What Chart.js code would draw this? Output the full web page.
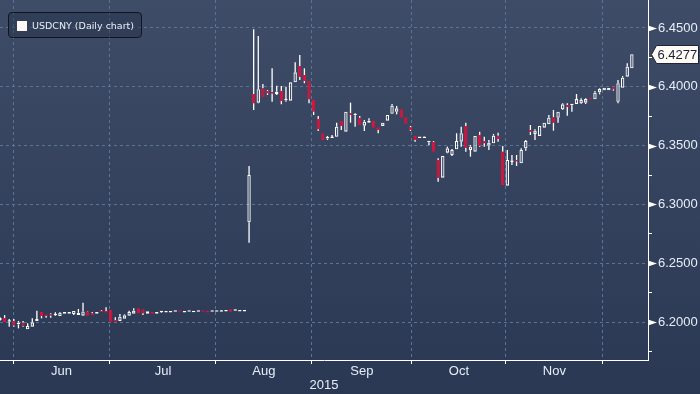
<!DOCTYPE html>
<html>
<head>
<meta charset="utf-8">
<script src="https://cdn.jsdelivr.net/npm/chart.js@4/dist/chart.umd.min.js"></script>
<style>
  html, body { margin: 0; padding: 0; }
  body {
    width: 700px; height: 394px; position: relative; overflow: hidden;
    background: linear-gradient(#3e4c68, #2b3854);
  }
  #chart { position: absolute; left: 0; top: 0; }
  .legend {
    position: absolute; left: 8px; top: 12px; width: 132px; height: 24px;
    border: 1px solid #10151f; border-radius: 4px;
    background: rgba(35, 46, 68, 0.45);
    color: #e8eef8; font: 9.5px 'DejaVu Sans', sans-serif; line-height: 25px;
  }
  .legend .box { position: absolute; left: 8px; top: 8px; width: 10px; height: 10px; background: #fff6f6; }
  .legend .txt { position: absolute; left: 23px; top: 0; white-space: nowrap; }
</style>
</head>
<body>
<canvas id="chart" width="700" height="394"></canvas>
<div class="legend"><div class="box"></div><span class="txt" id="legendText"></span></div>
<script>
// daily candles, oldest first (one per trading day)
const opens = [
  6.2017, 6.2034, 6.2003, 6.2009, 6.1980, 6.1994, 6.1938, 6.1960, 6.2009, 6.2085,
  6.2060, 6.2062, 6.2058, 6.2051, 6.2071, 6.2071, 6.2068, 6.2060, 6.2054, 6.2090,
  6.2074, 6.2071, 6.2094, 6.2094, 6.2102, 6.2017, 6.2009, 6.2028, 6.2054, 6.2071,
  6.2116, 6.2108, 6.2071, 6.2085, 6.2071, 6.2083, 6.2080, 6.2080, 6.2088, 6.2092,
  6.2080, 6.2088, 6.2083, 6.2088, 6.2092, 6.2094, 6.2088, 6.2088, 6.2088, 6.2090,
  6.2108, 6.2095, 6.2090, 6.2090, 6.2848, 6.3939, 6.3865, 6.3988, 6.3964, 6.3948,
  6.3939, 6.3964, 6.3886, 6.3882, 6.4038, 6.4177, 6.4100, 6.4049, 6.3888, 6.3726,
  6.3605, 6.3560, 6.3564, 6.3575, 6.3712, 6.3618, 6.3775, 6.3758, 6.3737, 6.3669,
  6.3695, 6.3709, 6.3656, 6.3667, 6.3712, 6.3771, 6.3788, 6.3809, 6.3741, 6.3656,
  6.3582, 6.3564, 6.3564, 6.3528, 6.3531, 6.3378, 6.3227, 6.3440, 6.3420, 6.3469,
  6.3533, 6.3667, 6.3463, 6.3448, 6.3590, 6.3539, 6.3499, 6.3520, 6.3584, 6.3448,
  6.3159, 6.3361, 6.3371, 6.3350, 6.3477, 6.3633, 6.3599, 6.3582, 6.3652, 6.3681,
  6.3741, 6.3737, 6.3809, 6.3845, 6.3843, 6.3854, 6.3860, 6.3865, 6.3907, 6.3894,
  6.3953, 6.3970, 6.3970, 6.3996, 6.3873, 6.3992, 6.4086, 6.4157
];
const highs = [
  6.2040, 6.2060, 6.2026, 6.2026, 6.2009, 6.2009, 6.1989, 6.2031, 6.2096, 6.2085,
  6.2060, 6.2074, 6.2082, 6.2085, 6.2085, 6.2085, 6.2094, 6.2111, 6.2164, 6.2094,
  6.2085, 6.2085, 6.2102, 6.2125, 6.2102, 6.2040, 6.2068, 6.2065, 6.2096, 6.2116,
  6.2116, 6.2108, 6.2091, 6.2085, 6.2085, 6.2094, 6.2094, 6.2094, 6.2092, 6.2092,
  6.2094, 6.2092, 6.2091, 6.2092, 6.2092, 6.2094, 6.2092, 6.2092, 6.2102, 6.2094,
  6.2108, 6.2104, 6.2094, 6.2094, 6.3327, 6.4489, 6.4432, 6.4024, 6.3973, 6.4157,
  6.4009, 6.4007, 6.4001, 6.4038, 6.4208, 6.4270, 6.4157, 6.4049, 6.3888, 6.3752,
  6.3605, 6.3582, 6.3590, 6.3695, 6.3712, 6.3788, 6.3865, 6.3775, 6.3752, 6.3718,
  6.3732, 6.3709, 6.3656, 6.3695, 6.3760, 6.3854, 6.3837, 6.3809, 6.3741, 6.3667,
  6.3582, 6.3570, 6.3575, 6.3533, 6.3539, 6.3392, 6.3412, 6.3491, 6.3471, 6.3605,
  6.3661, 6.3695, 6.3505, 6.3582, 6.3618, 6.3576, 6.3548, 6.3599, 6.3610, 6.3497,
  6.3463, 6.3420, 6.3420, 6.3477, 6.3548, 6.3675, 6.3639, 6.3667, 6.3695, 6.3760,
  6.3803, 6.3788, 6.3860, 6.3860, 6.3851, 6.3939, 6.3902, 6.3902, 6.3907, 6.3964,
  6.3987, 6.3992, 6.3990, 6.3996, 6.4058, 6.4092, 6.4200, 6.4277
];
const lows = [
  6.2010, 6.2000, 6.1960, 6.1960, 6.1946, 6.1960, 6.1938, 6.1960, 6.2009, 6.2031,
  6.2037, 6.2037, 6.2051, 6.2051, 6.2071, 6.2071, 6.2060, 6.2060, 6.2054, 6.2054,
  6.2060, 6.2071, 6.2085, 6.2080, 6.2003, 6.2003, 6.2009, 6.2028, 6.2054, 6.2071,
  6.2074, 6.2060, 6.2071, 6.2071, 6.2071, 6.2077, 6.2080, 6.2080, 6.2088, 6.2088,
  6.2080, 6.2088, 6.2083, 6.2088, 6.2088, 6.2080, 6.2088, 6.2088, 6.2088, 6.2090,
  6.2088, 6.2095, 6.2090, 6.2090, 6.2674, 6.3803, 6.3860, 6.3911, 6.3930, 6.3873,
  6.3930, 6.3851, 6.3873, 6.3882, 6.4038, 6.4058, 6.4030, 6.3860, 6.3760, 6.3624,
  6.3548, 6.3548, 6.3564, 6.3575, 6.3633, 6.3618, 6.3695, 6.3661, 6.3675, 6.3624,
  6.3695, 6.3652, 6.3605, 6.3667, 6.3712, 6.3771, 6.3766, 6.3737, 6.3686, 6.3624,
  6.3533, 6.3564, 6.3564, 6.3503, 6.3448, 6.3193, 6.3227, 6.3435, 6.3412, 6.3469,
  6.3491, 6.3448, 6.3406, 6.3448, 6.3491, 6.3491, 6.3463, 6.3520, 6.3533, 6.3165,
  6.3159, 6.3335, 6.3327, 6.3350, 6.3457, 6.3590, 6.3548, 6.3582, 6.3652, 6.3681,
  6.3627, 6.3695, 6.3803, 6.3754, 6.3788, 6.3854, 6.3854, 6.3854, 6.3894, 6.3894,
  6.3936, 6.3970, 6.3970, 6.3967, 6.3860, 6.3992, 6.4086, 6.4157
];
const closes = [
  6.2034, 6.2000, 6.2008, 6.1970, 6.1994, 6.1969, 6.1966, 6.1997, 6.2026, 6.2051,
  6.2051, 6.2056, 6.2064, 6.2079, 6.2085, 6.2085, 6.2094, 6.2079, 6.2090, 6.2054,
  6.2060, 6.2085, 6.2085, 6.2080, 6.2003, 6.2003, 6.2045, 6.2057, 6.2085, 6.2096,
  6.2074, 6.2074, 6.2091, 6.2071, 6.2085, 6.2087, 6.2094, 6.2094, 6.2092, 6.2088,
  6.2094, 6.2092, 6.2091, 6.2092, 6.2088, 6.2080, 6.2092, 6.2092, 6.2097, 6.2094,
  6.2088, 6.2099, 6.2094, 6.2094, 6.3250, 6.3860, 6.3979, 6.3911, 6.3945, 6.3942,
  6.3958, 6.3879, 6.3890, 6.4038, 6.4123, 6.4086, 6.4049, 6.3894, 6.3789, 6.3639,
  6.3548, 6.3565, 6.3570, 6.3661, 6.3667, 6.3788, 6.3760, 6.3762, 6.3675, 6.3703,
  6.3712, 6.3652, 6.3633, 6.3695, 6.3760, 6.3839, 6.3817, 6.3737, 6.3686, 6.3633,
  6.3548, 6.3570, 6.3570, 6.3533, 6.3448, 6.3227, 6.3412, 6.3477, 6.3463, 6.3539,
  6.3605, 6.3482, 6.3491, 6.3582, 6.3499, 6.3520, 6.3525, 6.3584, 6.3556, 6.3165,
  6.3378, 6.3366, 6.3366, 6.3463, 6.3539, 6.3618, 6.3627, 6.3667, 6.3695, 6.3737,
  6.3695, 6.3788, 6.3851, 6.3828, 6.3847, 6.3896, 6.3888, 6.3896, 6.3894, 6.3950,
  6.3981, 6.3992, 6.3990, 6.3979, 6.4030, 6.4077, 6.4171, 6.4277
];

// month boundaries in trading-day units, and the month names shown between them
const monthStarts = [2.82, 23.85, 46.82, 67.63, 89.31, 109.69, 130.72];
const monthLabels = ['Jun', 'Jul', 'Aug', 'Sep', 'Oct', 'Nov'];
const yearLabel = '2015';
const priceLabels = [6.20, 6.25, 6.30, 6.35, 6.40, 6.45];
const seriesName = 'USDCNY (Daily chart)';

const UP = '#ffffff';
const DOWN = '#dc143c';
const GRID = '#587592';
const TEXT = '#e6eef8';
const NONE = 'rgba(0,0,0,0)';
const FONT = 'Liberation Sans';

document.getElementById('legendText').textContent = seriesName;

const idx = opens.map((_, i) => i);
const isUp = i => closes[i] >= opens[i];
const bodies = idx.map(i => ({ x: i, y: [opens[i], closes[i]] }));
const upperWicks = idx.map(i => ({ x: i, y: [Math.max(opens[i], closes[i]), highs[i]] }));
const lowerWicks = idx.map(i => ({ x: i, y: [lows[i], Math.min(opens[i], closes[i])] }));

const xTicks = [];
monthStarts.forEach((v, k) => {
    xTicks.push(v);
    if (k < monthLabels.length) xTicks.push((v + monthStarts[k + 1]) / 2);
});
const yTicks = [];
priceLabels.forEach(v => { yTicks.push(v - 0.025, v); });
const isMajor = v => Math.abs(v * 20 - Math.round(v * 20)) < 1e-6;

// pointers next to the price labels and the last-price tag
const axisMarks = {
    id: 'axisMarks',
    afterDraw(chart) {
        const ctx = chart.ctx;
        const ys = chart.scales.y;
        ctx.save();
        ctx.fillStyle = '#ffffff';
        priceLabels.forEach(v => {
            const py = Math.round(ys.getPixelForValue(v)) + 0.5;
            ctx.beginPath();
            ctx.moveTo(ys.left, py - 3);
            ctx.lineTo(ys.left + 9, py);
            ctx.lineTo(ys.left, py + 3);
            ctx.closePath();
            ctx.fill();
        });

        const last = closes[closes.length - 1];
        const py = Math.round(ys.getPixelForValue(last)) + 0.5;
        const x0 = ys.left + 3.5;
        ctx.beginPath();
        ctx.moveTo(x0, py);
        ctx.lineTo(x0 + 5, py - 9);
        ctx.lineTo(698.5, py - 9);
        ctx.lineTo(698.5, py + 9);
        ctx.lineTo(x0 + 5, py + 9);
        ctx.closePath();
        ctx.fillStyle = '#fffaf3';
        ctx.fill();
        ctx.strokeStyle = '#1b2638';
        ctx.lineWidth = 1;
        ctx.stroke();
        ctx.fillStyle = '#16213a';
        ctx.font = '13px "' + FONT + '"';
        ctx.textBaseline = 'middle';
        ctx.fillText(last.toFixed(4), x0 + 6, py + 0.5);
        ctx.restore();
    }
};

new Chart(document.getElementById('chart'), {
    type: 'bar',
    data: {
        datasets: [
            {
                label: seriesName,
                data: bodies,
                backgroundColor: idx.map(i => isUp(i) ? NONE : DOWN),
                borderColor: idx.map(i => isUp(i) ? UP : DOWN),
                borderWidth: 1.1,
                borderSkipped: false,
                barThickness: 3.4,
                minBarLength: 1.5,
                inflateAmount: 0,
                order: 0,
            },
            { data: upperWicks, backgroundColor: UP, barThickness: 1.3, inflateAmount: 0, order: 1 },
            { data: lowerWicks, backgroundColor: UP, barThickness: 1.3, inflateAmount: 0, order: 1 },
        ],
    },
    options: {
        responsive: false,
        animation: false,
        devicePixelRatio: 1,
        layout: { padding: 0 },
        datasets: { bar: { grouped: false } },
        plugins: { legend: { display: false }, tooltip: { enabled: false } },
        scales: {
            x: {
                type: 'linear',
                min: 0,
                max: 140.5,
                offset: false,
                afterBuildTicks: s => { s.ticks = xTicks.map(v => ({ value: v })); },
                afterFit: s => { s.height = 34; s.paddingLeft = 0; s.paddingRight = 0; },
                grid: {
                    offset: false,
                    color: c => c.index % 2 === 0 ? GRID : NONE,
                    tickColor: c => c.index % 2 === 0 ? '#ffffff' : NONE,
                    tickLength: 4,
                },
                border: { color: '#ffffff', width: 1, dash: [3, 3] },
                ticks: {
                    autoSkip: false,
                    maxRotation: 0,
                    color: TEXT,
                    font: { family: FONT, size: 13 },
                    padding: 0,
                    callback: (v, i) => i % 2 ? monthLabels[(i - 1) / 2] : '',
                },
                title: {
                    display: true,
                    text: yearLabel,
                    color: TEXT,
                    font: { family: FONT, size: 13 },
                    padding: { top: 0, bottom: 1 },
                },
            },
            y: {
                position: 'right',
                min: 6.1677,
                max: 6.4738,
                afterBuildTicks: s => { s.ticks = yTicks.map(v => ({ value: v })); },
                afterFit: s => { s.width = 52; s.paddingTop = 0; s.paddingBottom = 0; },
                grid: {
                    color: c => c.tick && isMajor(c.tick.value) ? GRID : NONE,
                    tickColor: c => c.tick && isMajor(c.tick.value) ? NONE : '#ffffff',
                    tickLength: 4,
                },
                border: { color: '#ffffff', width: 1, dash: [3, 3] },
                ticks: {
                    color: TEXT,
                    font: { family: FONT, size: 13 },
                    padding: 6,
                    callback: v => isMajor(v) ? v.toFixed(4) : '',
                },
            },
        },
    },
    plugins: [axisMarks],
});
</script>
</body>
</html>
